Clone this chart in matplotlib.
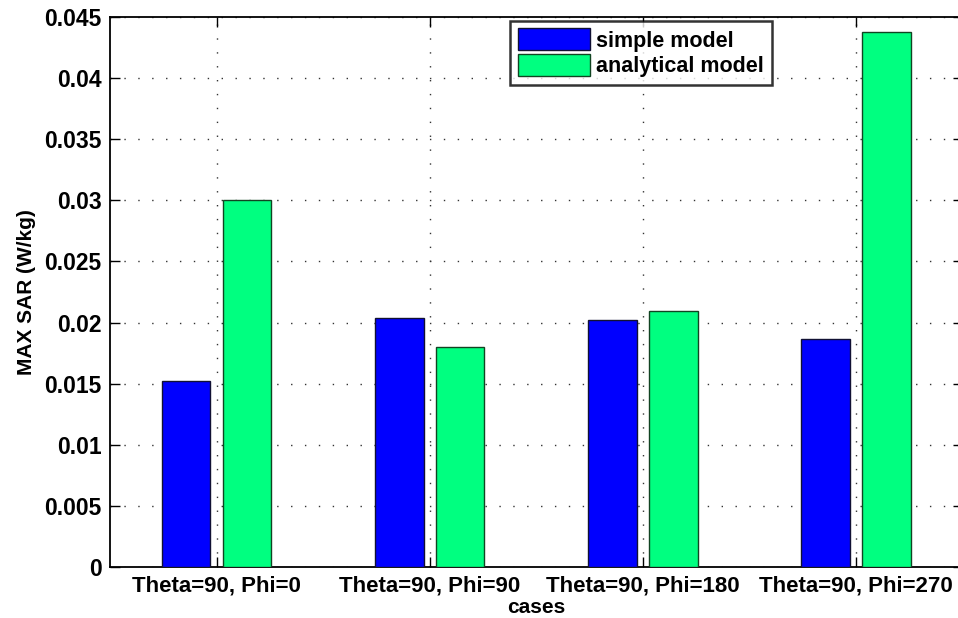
import numpy as np
import matplotlib
matplotlib.use("Agg")
import matplotlib.pyplot as plt

plt.rcParams['font.family'] = ['Liberation Sans', 'DejaVu Sans']
plt.rcParams['font.weight'] = 'bold'

cases = ["Theta=90, Phi=0", "Theta=90, Phi=90", "Theta=90, Phi=180", "Theta=90, Phi=270"]
simple_model = [0.01524, 0.02035, 0.02018, 0.01865]
analytical_model = [0.03005, 0.01800, 0.02092, 0.04375]
y_ticks = [0, 0.005, 0.01, 0.015, 0.02, 0.025, 0.03, 0.035, 0.04, 0.045]
y_tick_labels = ["0", "0.005", "0.01", "0.015", "0.02", "0.025", "0.03", "0.035", "0.04", "0.045"]

W, H = 958, 618
fig = plt.figure(figsize=(W / 100, H / 100), dpi=100)
left, right, top, bottom = 110, 962.5, 17, 567
ax = fig.add_axes([left / W, 1 - bottom / H, (right - left) / W, (bottom - top) / H])

x = np.arange(1, len(cases) + 1)
group_width = 2 / 3.5
bar_w = group_width / 2 * 0.8
offset = group_width / 4

ax.bar(x - offset, simple_model, bar_w, color='#0000ff', edgecolor='#111133',
       linewidth=1.0, label='simple model', zorder=3)
ax.bar(x + offset, analytical_model, bar_w, color='#00ff80', edgecolor='#114422',
       linewidth=1.0, label='analytical model', zorder=3)

ax.set_xlim(0.5, 4.5)
ax.set_ylim(0, 0.045)
ax.set_xticks(x)
ax.set_xticklabels(cases, fontsize=16, fontweight='bold')
ax.set_yticks(y_ticks)
ax.set_yticklabels(y_tick_labels, fontsize=16.5, fontweight='bold')
ax.tick_params(direction='in', length=7, width=1.0, top=True, right=True, pad=6)

ax.grid(True, linestyle=(0, (1, 9)), color='#333333', linewidth=1.0, zorder=0)
ax.set_axisbelow(True)
for s in ax.spines.values():
    s.set_linewidth(1.3)

ax.set_xlabel("cases", fontsize=15, fontweight='bold', labelpad=1)
ax.set_ylabel("MAX SAR (W/kg)", fontsize=15, fontweight='bold', labelpad=6)

leg = ax.legend(loc='upper left', bbox_to_anchor=((510 - left) / (right - left), 1 - (20.5 - top) / (bottom - top)),
                prop={'size': 15.5, 'weight': 'bold'}, frameon=True, fancybox=False,
                handlelength=3.35, handleheight=1.2,
                borderpad=0.36, labelspacing=0.12, handletextpad=0.3, borderaxespad=0)
leg.get_frame().set_edgecolor('black')
leg.get_frame().set_linewidth(1.8)

fig.savefig("out.png", dpi=100)
